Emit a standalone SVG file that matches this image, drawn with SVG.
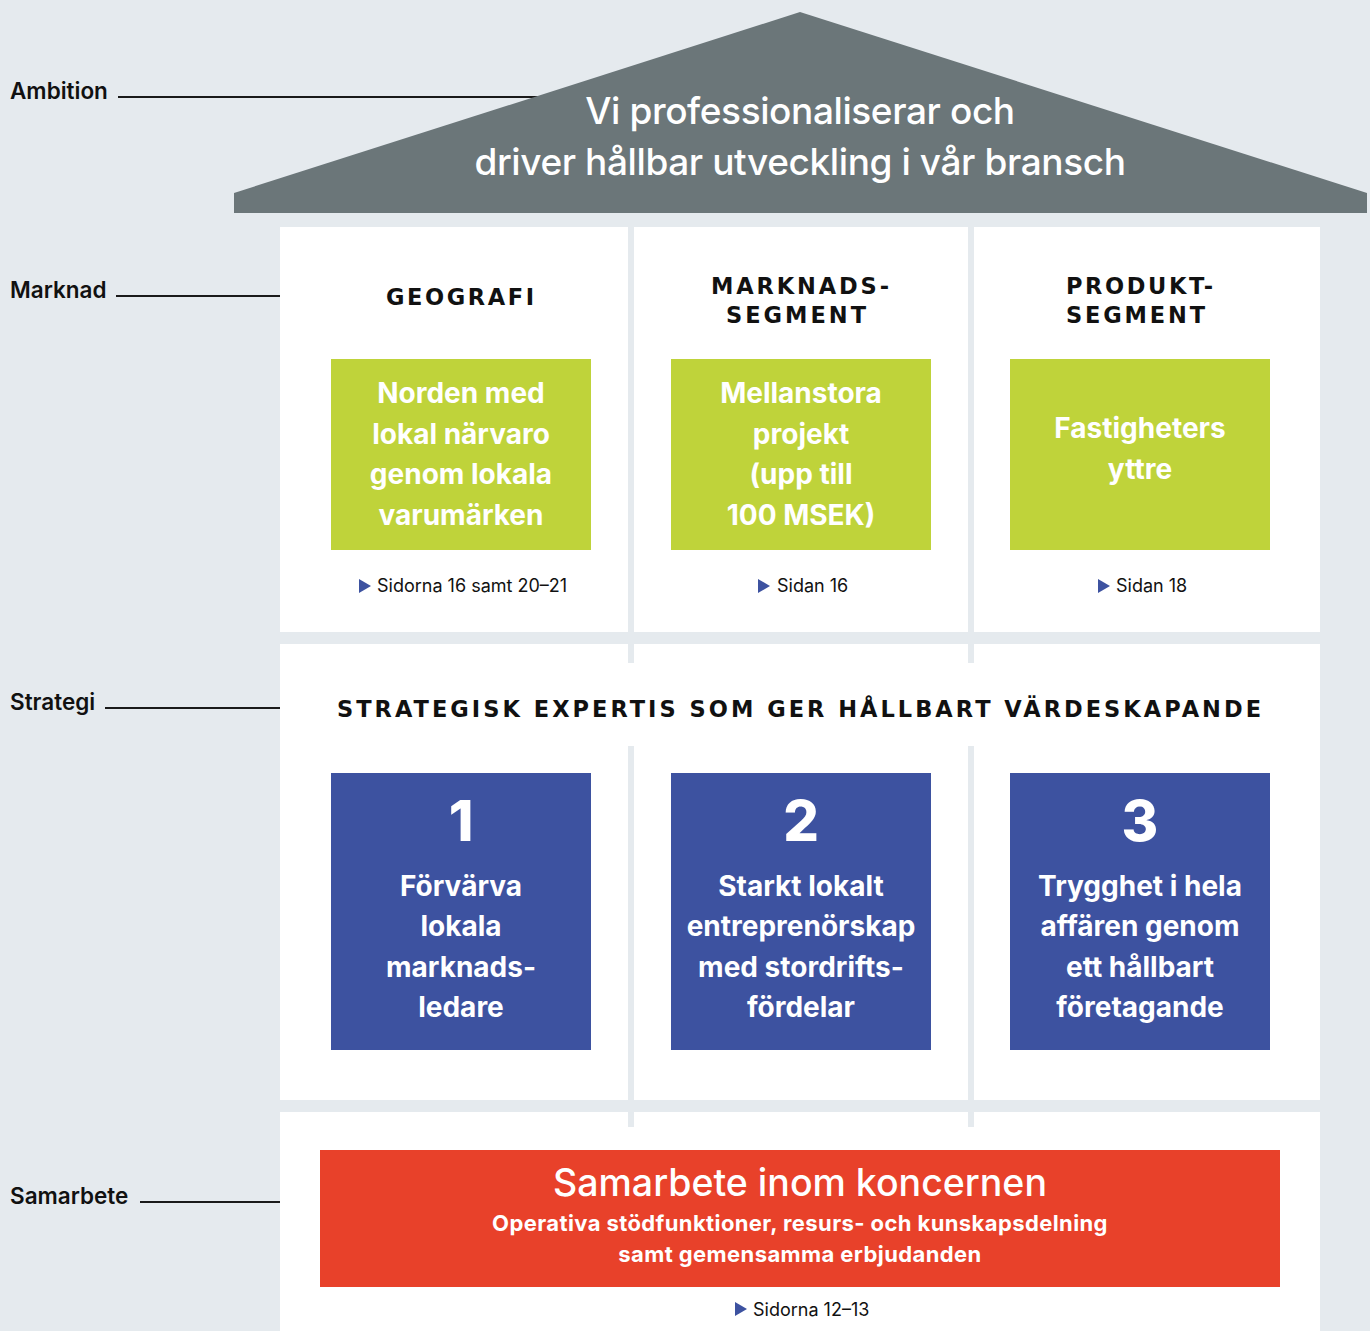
<svg xmlns="http://www.w3.org/2000/svg" width="1370" height="1331" viewBox="0 0 1370 1331">
<style>
.lbl{font-family:Inter,"Noto Sans",sans-serif;font-size:22.5px;font-weight:600;fill:#111}
.ln{stroke:#1a1a1a;stroke-width:2}
.hd{font-family:"DejaVu Sans",Inter,sans-serif;font-size:22.5px;font-weight:700;fill:#111;text-anchor:middle}
.gt{font-family:Inter,"Noto Sans",sans-serif;font-size:28px;font-weight:700;fill:#fff;text-anchor:middle}
.bt{font-family:Inter,"Noto Sans",sans-serif;font-size:28px;font-weight:700;fill:#fff;text-anchor:middle}
.num{font-family:Inter,"Noto Sans",sans-serif;font-size:56px;font-weight:800;fill:#fff;text-anchor:middle}
.ref{font-family:Inter,"Noto Sans",sans-serif;font-size:18px;fill:#111}
.tri{fill:#3d52a0}
.pan{fill:#fff}
.green{fill:#bfd33a}
.blue{fill:#3d52a0}
.roof{font-family:Inter,"Noto Sans",sans-serif;font-size:37px;font-weight:500;fill:#fff;text-anchor:middle;letter-spacing:-0.4px}
</style>
<rect width="1370" height="1331" fill="#e5eaee"/>
<g id="labels">
<text class="lbl" x="10" y="99">Ambition</text>
<line class="ln" x1="118" y1="97" x2="540" y2="97"/>
<text class="lbl" x="10" y="298">Marknad</text>
<line class="ln" x1="116" y1="296" x2="280" y2="296"/>
<text class="lbl" x="10" y="710">Strategi</text>
<line class="ln" x1="105" y1="708" x2="280" y2="708"/>
<text class="lbl" x="10" y="1204">Samarbete</text>
<line class="ln" x1="140" y1="1202" x2="280" y2="1202"/>
</g>
<g id="roof">
<polygon points="234,193 800,12 1367,193 1367,213 234,213" fill="#6b7679"/>
<text class="roof" x="800" y="124">Vi professionaliserar och</text>
<text class="roof" x="800" y="175">driver hållbar utveckling i vår bransch</text>
</g>
<g id="panels">
<rect class="pan" x="280" y="227" width="1040" height="405"/>
<rect class="pan" x="280" y="644" width="1040" height="456"/>
<rect class="pan" x="280" y="1112" width="1040" height="219"/>
<rect fill="#e5eaee" x="628" y="227" width="6" height="436"/>
<rect fill="#e5eaee" x="968" y="227" width="6" height="436"/>
<rect fill="#e5eaee" x="628" y="746" width="6" height="381"/>
<rect fill="#e5eaee" x="968" y="746" width="6" height="381"/>
</g>
<g id="geografi">
<text class="hd" x="460" y="305" textLength="148" lengthAdjust="spacing">GEOGRAFI</text>
<rect class="green" x="331" y="359" width="260" height="191"/>
<text class="gt" x="461" y="403">Norden med</text>
<text class="gt" x="461" y="444">lokal närvaro</text>
<text class="gt" x="461" y="484">genom lokala</text>
<text class="gt" x="461" y="525">varumärken</text>
<polygon class="tri" points="359,579 371,586 359,593"/>
<text class="ref" x="377" y="592">Sidorna 16 samt 20–21</text>
</g>
<g id="marknadssegment">
<text class="hd" x="800" y="294" textLength="178" lengthAdjust="spacing">MARKNADS-</text>
<text class="hd" x="796" y="323" textLength="140" lengthAdjust="spacing">SEGMENT</text>
<rect class="green" x="671" y="359" width="260" height="191"/>
<text class="gt" x="801" y="403">Mellanstora</text>
<text class="gt" x="801" y="444">projekt</text>
<text class="gt" x="801" y="484">(upp till</text>
<text class="gt" x="801" y="525">100 MSEK)</text>
<polygon class="tri" points="758,579 770,586 758,593"/>
<text class="ref" x="777" y="592">Sidan 16</text>
</g>
<g id="produktsegment">
<text class="hd" x="1139.5" y="294" textLength="147" lengthAdjust="spacing">PRODUKT-</text>
<text class="hd" x="1135.5" y="323" textLength="139" lengthAdjust="spacing">SEGMENT</text>
<rect class="green" x="1010" y="359" width="260" height="191"/>
<text class="gt" x="1140" y="438">Fastigheters</text>
<text class="gt" x="1140" y="479">yttre</text>
<polygon class="tri" points="1098,579 1110,586 1098,593"/>
<text class="ref" x="1116" y="592">Sidan 18</text>
</g>
<g id="strategi">
<text class="hd" x="799" y="717" font-size="24" textLength="924" lengthAdjust="spacing">STRATEGISK EXPERTIS SOM GER HÅLLBART VÄRDESKAPANDE</text>
</g>
<g id="s1">
<rect class="blue" x="331" y="773" width="260" height="277"/>
<text class="num" x="461" y="841">1</text>
<text class="bt" x="461" y="896">Förvärva</text>
<text class="bt" x="461" y="936">lokala</text>
<text class="bt" x="461" y="977">marknads-</text>
<text class="bt" x="461" y="1017">ledare</text>
</g>
<g id="s2">
<rect class="blue" x="671" y="773" width="260" height="277"/>
<text class="num" x="801" y="841">2</text>
<text class="bt" x="801" y="896">Starkt lokalt</text>
<text class="bt" x="801" y="936">entreprenörskap</text>
<text class="bt" x="801" y="977">med stordrifts-</text>
<text class="bt" x="801" y="1017">fördelar</text>
</g>
<g id="s3">
<rect class="blue" x="1010" y="773" width="260" height="277"/>
<text class="num" x="1140" y="841">3</text>
<text class="bt" x="1140" y="896">Trygghet i hela</text>
<text class="bt" x="1140" y="936">affären genom</text>
<text class="bt" x="1140" y="977">ett hållbart</text>
<text class="bt" x="1140" y="1017">företagande</text>
</g>
<g id="samarbete">
<rect x="320" y="1150" width="960" height="137" fill="#e8412a"/>
<text x="800" y="1196" font-family="Inter,'Noto Sans',sans-serif" font-size="37.5" font-weight="500" fill="#fff" text-anchor="middle">Samarbete inom koncernen</text>
<text x="800" y="1231" font-family="Inter,'Noto Sans',sans-serif" font-size="22" font-weight="700" fill="#fff" text-anchor="middle" letter-spacing="0.4">Operativa stödfunktioner, resurs- och kunskapsdelning</text>
<text x="800" y="1262" font-family="Inter,'Noto Sans',sans-serif" font-size="22" font-weight="700" fill="#fff" text-anchor="middle" letter-spacing="0.4">samt gemensamma erbjudanden</text>
<polygon class="tri" points="735,1302 747,1309 735,1316"/>
<text class="ref" x="753" y="1316">Sidorna 12–13</text>
</g>
</svg>
